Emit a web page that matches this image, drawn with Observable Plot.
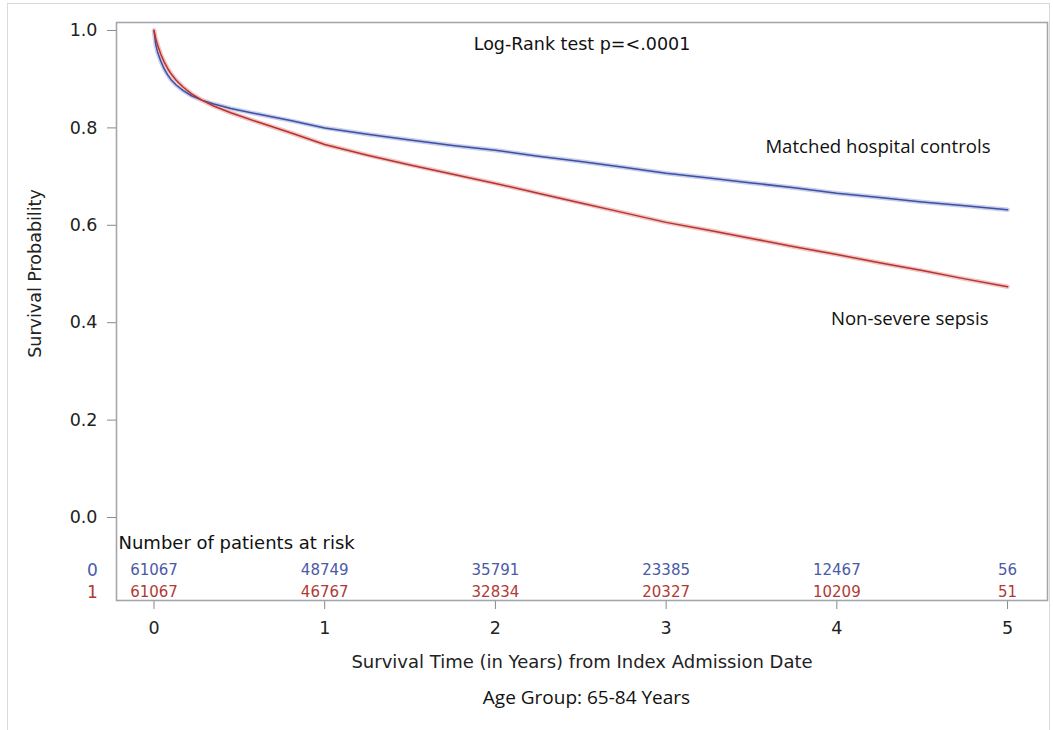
<!DOCTYPE html>
<html>
<head>
<meta charset="utf-8">
<script src="https://cdn.jsdelivr.net/npm/d3@7"></script>
<script src="https://cdn.jsdelivr.net/npm/@observablehq/plot@0.6"></script>
<style>
  html, body { margin: 0; padding: 0; background: #fff; }
  #wrap { position: relative; width: 1053px; height: 730px; overflow: hidden; }
  #border { position: absolute; left: 7px; top: 3px; width: 1043px; height: 740px; border: 1px solid #d9d9d9; box-sizing: border-box; }
  #chart { position: absolute; left: 0; top: 0; }
  #caption { position: absolute; left: 0; top: 684px; width: 1173px; text-align: center; font-family: "Open Sans", Lato, sans-serif; font-size: 19px; color: #111; }
</style>
</head>
<body>
<div id="wrap">
  <div id="border"></div>
  <div id="chart"></div>
  <div id="caption">Age Group: 65-84 Years</div>
</div>
<script>
// Survival time (years) at which curve values were read
const times = [0, 0.01, 0.02, 0.04, 0.06, 0.08, 0.1, 0.13, 0.17, 0.22, 0.28, 0.35, 0.45, 0.6, 0.8, 1.0, 1.25, 1.5, 1.75, 2.0, 2.25, 2.5, 2.75, 3.0, 3.25, 3.5, 3.75, 4.0, 4.25, 4.5, 4.75, 5.0];
// Group 0: Matched hospital controls
const survControls = [1.0, 0.972, 0.957, 0.937, 0.921, 0.909, 0.899, 0.888, 0.877, 0.866, 0.857, 0.849, 0.840, 0.829, 0.815, 0.800, 0.787, 0.775, 0.764, 0.754, 0.742, 0.731, 0.719, 0.707, 0.697, 0.687, 0.677, 0.666, 0.657, 0.648, 0.640, 0.632];
// Group 1: Non-severe sepsis
const survSepsis = [1.0, 0.984, 0.971, 0.951, 0.935, 0.922, 0.911, 0.898, 0.884, 0.870, 0.857, 0.845, 0.831, 0.813, 0.790, 0.766, 0.744, 0.724, 0.705, 0.686, 0.666, 0.646, 0.626, 0.606, 0.590, 0.573, 0.556, 0.540, 0.523, 0.507, 0.490, 0.474];

// Number at risk table
const riskTimes = [0, 1, 2, 3, 4, 5];
const riskControls = [61067, 48749, 35791, 23385, 12467, 56];
const riskSepsis = [61067, 46767, 32834, 20327, 10209, 51];

const groups = ["0", "1"];
const groupNames = ["Matched hospital controls", "Non-severe sepsis"];
const yTicks = [0, 0.2, 0.4, 0.6, 0.8, 1.0];
const xTicks = [0, 1, 2, 3, 4, 5];

const blue = "#3d4fa6";
const red = "#b8322e";
const blueBand = "#c9cfe9";
const redBand = "#efc6c4";
const blueText = "#4a5aa8";
const redText = "#b03a35";

const controlsData = times.map((t, i) => ({t, s: survControls[i]}));
const sepsisData = times.map((t, i) => ({t, s: survSepsis[i]}));
const riskRow0 = riskTimes.map((t, i) => ({t, n: riskControls[i]}));
const riskRow1 = riskTimes.map((t, i) => ({t, n: riskSepsis[i]}));

const font = "'DejaVu Sans', Verdana, sans-serif";
const calibri = "'Open Sans', Lato, sans-serif";

const chart = Plot.plot({
  width: 1053,
  height: 680,
  marginLeft: 116,
  marginRight: 6,
  marginTop: 22,
  marginBottom: 80,
  style: {fontFamily: font, fontSize: "16px", color: "#333", background: "transparent"},
  x: {domain: [-0.2196, 5.234], label: null},
  y: {domain: [-0.1704, 1.0164], label: null},
  marks: [
    Plot.axisX({ticks: xTicks, tickSize: 9, tickPadding: 12, tickFormat: d3.format("d"), fontSize: 17.5, stroke: "#888", fill: "#222", label: null, fontFamily: font}),
    Plot.axisY({ticks: yTicks, tickSize: 9, tickPadding: 10, tickFormat: d3.format(".1f"), fontSize: 17.5, stroke: "#888", fill: "#222", label: null, fontFamily: font}),
    Plot.frame({stroke: "#a3a7ab", strokeWidth: 1.6}),
    // confidence bands (pale halo) and survival curves
    Plot.line(controlsData, {x: "t", y: "s", stroke: blueBand, strokeWidth: 4.5}),
    Plot.line(sepsisData, {x: "t", y: "s", stroke: redBand, strokeWidth: 4.5}),
    Plot.line(controlsData, {x: "t", y: "s", stroke: blue, strokeWidth: 1.5}),
    Plot.line(sepsisData, {x: "t", y: "s", stroke: red, strokeWidth: 1.5}),
    // log-rank annotation
    Plot.text(["Log-Rank test p=<.0001"], {frameAnchor: "top", lineAnchor: "middle", dy: 22, fontSize: 17.5, fill: "#111", fontFamily: font}),
    // group labels
    Plot.text([groupNames[0]], {frameAnchor: "top-right", lineAnchor: "middle", dx: -57, dy: 125, fontSize: 18.6, fill: "#111", fontFamily: calibri, textAnchor: "end"}),
    Plot.text([groupNames[1]], {frameAnchor: "top-right", lineAnchor: "middle", dx: -59, dy: 297, fontSize: 18.6, fill: "#111", fontFamily: calibri, textAnchor: "end"}),
    // at-risk table
    Plot.text(["Number of patients at risk"], {frameAnchor: "bottom-left", lineAnchor: "middle", dx: 2, dy: -57, textAnchor: "start", fontSize: 18, fill: "#111", fontFamily: font}),
    Plot.text(riskRow0, {x: "t", text: d => String(d.n), frameAnchor: "bottom", lineAnchor: "middle", dy: -30, fill: blueText, fontSize: 15, fontFamily: font}),
    Plot.text(riskRow1, {x: "t", text: d => String(d.n), frameAnchor: "bottom", lineAnchor: "middle", dy: -8, fill: redText, fontSize: 15, fontFamily: font}),
    Plot.text([groups[0]], {frameAnchor: "bottom-left", lineAnchor: "middle", textAnchor: "middle", dx: -24, dy: -30, fill: blueText, fontSize: 17, fontFamily: font}),
    Plot.text([groups[1]], {frameAnchor: "bottom-left", lineAnchor: "middle", textAnchor: "middle", dx: -24, dy: -8, fill: redText, fontSize: 17, fontFamily: font}),
    // axis titles
    Plot.text(["Survival Probability"], {frameAnchor: "left", lineAnchor: "middle", textAnchor: "middle", dx: -81, dy: -38, rotate: -90, fontSize: 17.5, fill: "#222", fontFamily: font}),
    Plot.text(["Survival Time (in Years) from Index Admission Date"], {frameAnchor: "bottom", lineAnchor: "middle", dy: 62, fontSize: 18, fill: "#222", fontFamily: font})
  ]
});
document.getElementById("chart").appendChild(chart);
</script>
</body>
</html>
